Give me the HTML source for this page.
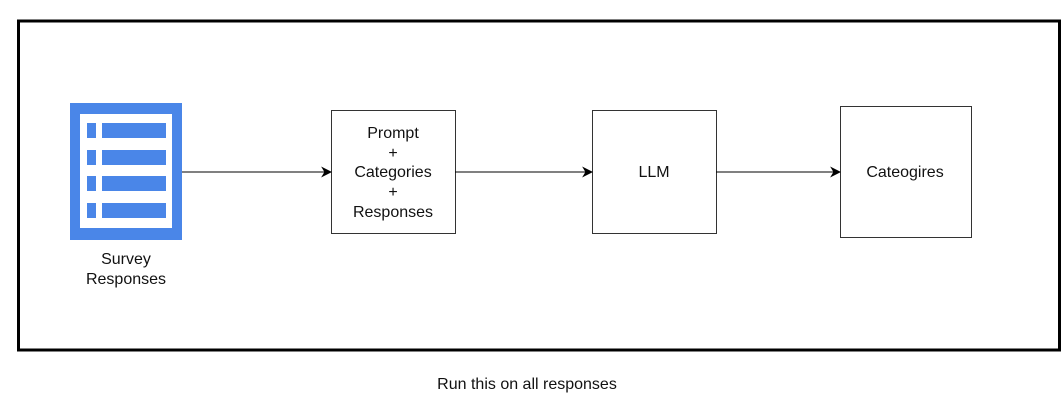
<!DOCTYPE html>
<html><head><style>
body{margin:0;background:#fff;width:1062px;height:402px;overflow:hidden}
svg text{font-family:"Liberation Sans",Arial,sans-serif;font-size:16px;fill:#111}
</style></head><body>
<svg width="1062" height="402" xmlns="http://www.w3.org/2000/svg">
<defs><marker id="a" viewBox="0 0 10 10" refX="9" refY="5" markerWidth="11" markerHeight="11" markerUnits="userSpaceOnUse" orient="auto"><path d="M0,0 L10,5 L0,10 L3,5 Z" fill="#000"/></marker></defs>
<rect x="18.5" y="21" width="1041" height="329" fill="none" stroke="#000" stroke-width="3"/>
<rect x="70" y="103" width="112" height="137" fill="#4a86e8"/>
<rect x="80" y="114" width="92" height="114" fill="#fff"/>
<g fill="#4a86e8">
<rect x="87" y="123" width="9" height="15"/><rect x="102" y="123" width="64" height="15"/>
<rect x="87" y="150" width="9" height="15"/><rect x="102" y="150" width="64" height="15"/>
<rect x="87" y="176" width="9" height="15"/><rect x="102" y="176" width="64" height="15"/>
<rect x="87" y="203" width="9" height="15"/><rect x="102" y="203" width="64" height="15"/>
</g>
<text x="126" y="264" text-anchor="middle">Survey</text>
<text x="126" y="284" text-anchor="middle">Responses</text>
<g fill="#fff" stroke="#333" stroke-width="1">
<rect x="331.5" y="110.5" width="124" height="123"/>
<rect x="592.5" y="110.5" width="124" height="123"/>
<rect x="840.5" y="106.5" width="131" height="131"/>
</g>
<g text-anchor="middle">
<text x="393" y="138">Prompt</text>
<text x="393" y="158">+</text>
<text x="393" y="177">Categories</text>
<text x="393" y="197">+</text>
<text x="393" y="217">Responses</text>
<text x="654" y="177">LLM</text>
<text x="905" y="177">Cateogires</text>
<text x="527" y="389">Run this on all responses</text>
</g>
<g stroke="#000" stroke-width="1" marker-end="url(#a)">
<line x1="182" y1="172" x2="331" y2="172"/>
<line x1="455" y1="172" x2="592" y2="172"/>
<line x1="716" y1="172" x2="840" y2="172"/>
</g>
</svg>
</body></html>
